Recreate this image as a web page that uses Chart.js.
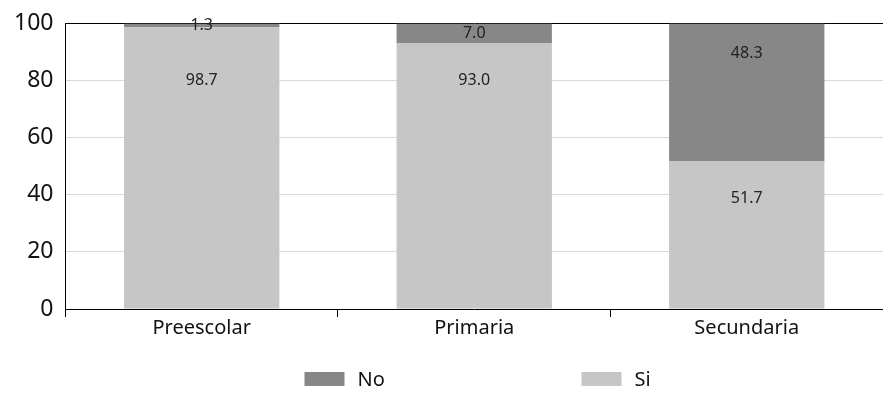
<!DOCTYPE html>
<html lang="es">
<head>
<meta charset="UTF-8">
<title>Nivel educativo</title>
<script src="https://cdn.jsdelivr.net/npm/chart.js"></script>
<style>
  body { margin: 0; background: #fff; }
  #caja { width: 883px; height: 398px; }
</style>
</head>
<body>
<div id="caja"><canvas id="grafico"></canvas></div>
<script>
    // datos
    const niveles = ['Preescolar', 'Primaria', 'Secundaria'];
    const valoresSi = [98.7, 93.0, 51.7];
    const valoresNo = [1.3, 7.0, 48.3];
    const marcasY = [0, 20, 40, 60, 80, 100];

    const fuente = '"Noto Sans", sans-serif';

    // etiquetas de valor dentro de las barras
    const etiquetas = {
        id: 'etiquetas',
        afterDatasetsDraw(chart) {
            const ctx = chart.ctx;
            ctx.save();
            ctx.font = '16px ' + fuente;
            ctx.fillStyle = '#222';
            ctx.textAlign = 'center';
            ctx.textBaseline = 'middle';
            chart.data.datasets.forEach((ds, i) => {
                chart.getDatasetMeta(i).data.forEach((barra, j) => {
                    let y;
                    if (ds.label === 'No') {
                        y = Math.min((barra.y + barra.base) / 2, barra.y + 30);
                    } else {
                        y = Math.max(barra.y + 37, 80);
                    }
                    ctx.fillText(ds.data[j].toFixed(1), barra.x, y);
                });
            });
            ctx.restore();
        }
    };

    // leyenda abajo, separada como en la imagen
    const leyenda = {
        id: 'leyenda',
        afterDraw(chart) {
            const ctx = chart.ctx;
            const centro = chart.width / 2;
            const inicios = [centro - 137, centro + 140];
            ctx.save();
            ctx.font = '20px ' + fuente;
            ctx.textBaseline = 'middle';
            chart.data.datasets.forEach((ds, i) => {
                const x = inicios[i];
                const y = 379;
                ctx.fillStyle = ds.backgroundColor;
                ctx.fillRect(x, y - 7, 40, 14);
                ctx.fillStyle = '#111';
                ctx.fillText(ds.label, x + 53, y + 1);
            });
            ctx.restore();
        }
    };

    new Chart(document.getElementById('grafico'), {
        type: 'bar',
        data: {
            labels: niveles,
            datasets: [
                { label: 'No', data: valoresNo, backgroundColor: '#878787', order: 2 },
                { label: 'Si', data: valoresSi, backgroundColor: '#c6c6c6', order: 1 }
            ]
        },
        options: {
            responsive: true,
            maintainAspectRatio: false,
            animation: false,
            layout: { padding: { top: 0, bottom: 59, left: 2, right: 0 } },
            datasets: { bar: { barPercentage: 0.57, categoryPercentage: 1 } },
            plugins: { legend: { display: false }, tooltip: { enabled: false } },
            scales: {
                x: {
                    stacked: true,
                    border: { color: '#000', width: 1 },
                    grid: { offset: true, drawOnChartArea: false, drawTicks: true, tickLength: 8, color: '#000' },
                    ticks: { color: '#111', font: { family: fuente, size: 20 }, padding: -1 }
                },
                y: {
                    stacked: true,
                    min: 0,
                    max: 100,
                    afterBuildTicks(eje) { eje.ticks = marcasY.map(v => ({ value: v })); },
                    border: { color: '#000', width: 1 },
                    grid: {
                        drawTicks: false,
                        color: c => c.tick.value === 100 ? '#000' : '#d9d9d9'
                    },
                    ticks: { color: '#111', font: { family: fuente, size: 23, lineHeight: 1 }, padding: 12 }
                }
            }
        },
        plugins: [etiquetas, leyenda]
    });
</script>
</body>
</html>
